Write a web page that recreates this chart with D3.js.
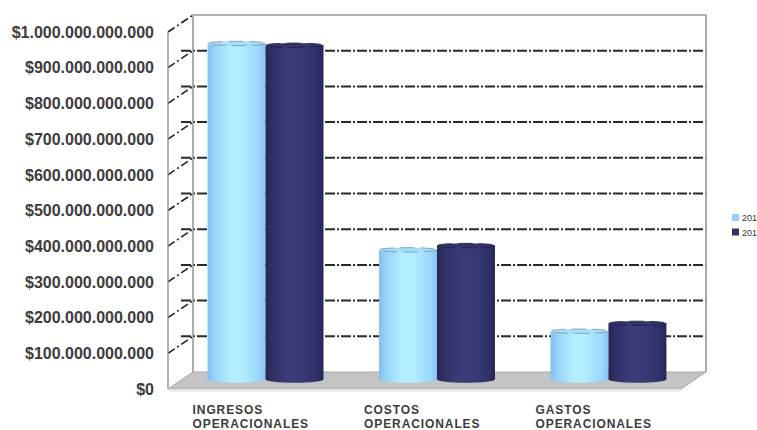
<!DOCTYPE html>
<html><head><meta charset="utf-8">
<script src="https://cdn.jsdelivr.net/npm/d3@7"></script>
<style>body{margin:0;background:#fff}svg{display:block}</style>
</head><body>
<svg id="c" width="757" height="430"></svg>
<script>
const categories = [["INGRESOS","OPERACIONALES"],["COSTOS","OPERACIONALES"],["GASTOS","OPERACIONALES"]];
const seriesNames = ["201","201"];
const seriesA = [944e9, 366e9, 138e9];
const seriesB = [939e9, 378e9, 160e9];
const yTicks = [0,1e11,2e11,3e11,4e11,5e11,6e11,7e11,8e11,9e11,1e12];

const svg = d3.select("#c");
const DX = -25, DY = 17;           // depth offset (back -> front)
const backL = 193, backR = 706;
const y = d3.scaleLinear().domain([0,1e12]).range([372,15]);
const x = d3.scaleBand().domain(d3.range(categories.length)).range([backL+DX/2, backR+DX/2]).paddingInner(0.324).paddingOuter(0.158);
const xs = d3.scaleBand().domain([0,1]).range([0, x.bandwidth()]);
const loc = d3.formatLocale({decimal:",", thousands:".", grouping:[3], currency:["$",""]});
const fmt = loc.format("$,.0f");

const defs = svg.append("defs");
function grad(id, stops){
  const g = defs.append("linearGradient").attr("id",id).attr("x1","0").attr("x2","1").attr("y1","0").attr("y2","0");
  stops.forEach(s=>g.append("stop").attr("offset",s[0]).attr("stop-color",s[1]));
}
grad("gA",[[0,"#82bef0"],[0.12,"#97d3f8"],[0.4,"#b4efff"],[0.6,"#b2edff"],[0.9,"#9ad6fa"],[1,"#86c2ee"]]);
grad("gB",[[0,"#262656"],[0.12,"#313168"],[0.4,"#3c3c78"],[0.6,"#3a3a76"],[0.9,"#30306a"],[1,"#252552"]]);
const grads = ["url(#gA)","url(#gB)"];
const tops = ["#a6def8","#34346c"];
const topStroke = ["#6f94ad","#1e1e40"];
const legendCols = ["#99ccff","#333366"];

const g = svg.append("g");
// side wall tick lines (diagonal)
yTicks.forEach(t=>{
  if(t===0) return;
  g.append("line").attr("x1",backL+DX).attr("y1",y(t)+DY).attr("x2",backL).attr("y2",y(t))
    .attr("stroke","#222").attr("stroke-width",1.6).attr("stroke-dasharray","8,3,2,3");
});
// back wall grid lines
yTicks.forEach(t=>{
  if(t===0 || t===1e12) return;
  g.append("line").attr("x1",backL-12).attr("x2",backR).attr("y1",y(t)).attr("y2",y(t))
    .attr("stroke","#2a2a2a").attr("stroke-width",2).attr("stroke-dasharray","10,2,2,2");
});
// back wall frame
g.append("path").attr("d",`M${backL},${y(0)}V${y(1e12)}H${backR}V${y(0)}`)
  .attr("fill","none").attr("stroke","#9a9a9a").attr("stroke-width",1.6);
// front left vertical
g.append("line").attr("x1",backL+DX).attr("x2",backL+DX).attr("y1",y(1e12)+DY).attr("y2",y(0)+DY)
  .attr("stroke","#8a8a8a").attr("stroke-width",1.3);
// floor
g.append("path").attr("d",`M${backL},${y(0)}L${backR},${y(0)}L${backR+DX},${y(0)+DY}L${backL+DX},${y(0)+DY}Z`)
  .attr("fill","#c4c4c4").attr("stroke","#a8a8a8").attr("stroke-width",1);
g.append("rect").attr("x",backL+DX).attr("y",y(0)+DY).attr("width",backR-backL).attr("height",2.5).attr("fill","#e6e6e6");

// bars (mid depth)
const yMid = v => y(v) + DY/2;
const ry = 2.2;
categories.forEach((c,i)=>{
  [seriesA[i], seriesB[i]].forEach((v,k)=>{
    const x0 = x(i) + xs(k), w = xs.bandwidth(), rx = w/2, cx = x0+rx;
    const yt = yMid(v), yb = yMid(0) - 1;
    g.append("path").attr("d",`M${x0},${yt}V${yb}A${rx},${ry+1} 0 0 0 ${x0+w},${yb}V${yt}Z`).attr("fill",grads[k]);
    g.append("ellipse").attr("cx",cx).attr("cy",yt).attr("rx",rx).attr("ry",ry)
      .attr("fill",tops[k]).attr("stroke",topStroke[k]).attr("stroke-width",0.8).attr("stroke-dasharray","14,6");
  });
});

// y labels
yTicks.forEach(t=>{
  svg.append("text").attr("x",154).attr("y",y(t)+DY).attr("dy","0.36em").attr("text-anchor","end")
    .attr("font-family","Liberation Sans, Arial, sans-serif").attr("font-weight","bold").attr("font-size",16)
    .attr("fill","#3c3c3c").text(fmt(t));
});
// x labels
categories.forEach((c,i)=>{
  const t = svg.append("text").attr("x",x(i)-15).attr("y",414)
    .attr("font-family","Liberation Sans, Arial, sans-serif").attr("font-weight","bold").attr("font-size",12)
    .attr("letter-spacing","0.9px").attr("fill","#3c3c3c");
  c.forEach((line,j)=>t.append("tspan").attr("x",x(i)-15).attr("dy",j?14:0).text(line));
});
// legend
seriesNames.forEach((s,k)=>{
  svg.append("rect").attr("x",732).attr("y",214+k*14.5).attr("width",7).attr("height",7).attr("fill",legendCols[k]);
  svg.append("text").attr("x",742).attr("y",218+k*14.5).attr("dy","0.35em")
    .attr("font-family","Liberation Sans, Arial, sans-serif").attr("font-size",9).attr("fill","#333").text(s);
});
</script>
</body></html>
